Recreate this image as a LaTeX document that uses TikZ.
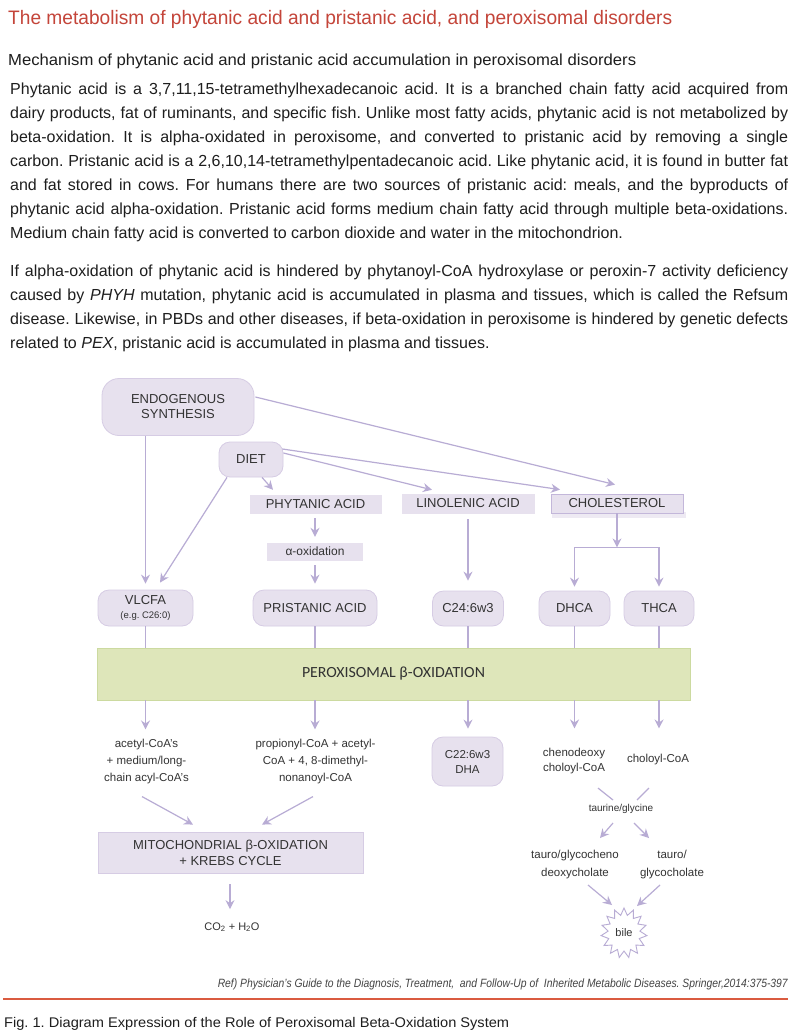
\documentclass[tikz,border=0pt]{standalone}
\usepackage{fontspec}
\setmainfont{Liberation Sans}
\newfontfamily\carlito{Carlito}
\usepackage{graphicx}
\usetikzlibrary{arrows.meta,calc,shapes.symbols}
\frenchspacing
\definecolor{lavfill}{HTML}{E7E1EE}
\definecolor{lavedge}{HTML}{D6CCE4}
\definecolor{lavedgedark}{HTML}{C3B7DA}
\definecolor{lavshadow}{HTML}{EEEAF3}
\definecolor{arrowc}{HTML}{B8ACD4}
\definecolor{greenfill}{HTML}{DEE6BA}
\definecolor{greenedge}{HTML}{CCDAA0}
\definecolor{titlered}{HTML}{C4453A}
\definecolor{rulered}{HTML}{DA5B40}
\definecolor{txt}{HTML}{1E1E1E}
\definecolor{lab}{HTML}{333333}
\definecolor{refgray}{HTML}{444444}
\tikzset{
  rbox/.style={draw=lavedge, fill=lavfill, rounded corners=11pt, line width=0.8pt,
    font=\fontsize{13}{15}\selectfont, text=lab, align=center, inner sep=0pt},
  sbox/.style={fill=lavfill, draw=lavfill, font=\fontsize{13}{15}\selectfont,
    text=lab, align=center, inner sep=0pt},
  arr/.style={draw=arrowc, line width=1.2pt, -{Stealth[length=9pt,width=9pt,inset=3pt]}},
  ln/.style={draw=arrowc, line width=1.2pt},
  small/.style={font=\fontsize{11.5}{17}\selectfont, text=lab, align=center, inner sep=0pt},
  bodytext/.style={anchor=base west, inner sep=0pt, text=txt, align=left,
    font=\fontsize{16}{24}\selectfont\frenchspacing},
}
\newcommand{\jl}[1]{\hbox to 778pt{#1}}
\begin{document}
\begin{tikzpicture}[x=1pt,y=-1pt]
\fill[white] (0,0) rectangle (800,1035);
\useasboundingbox (0,0) rectangle (800,1035);

% ---------- header text ----------
\node[anchor=base west, inner sep=0pt, text=titlered, font=\fontsize{19.5}{24}\selectfont]
  (title) at (8,25) {\resizebox{664pt}{\height}{The metabolism of phytanic acid and pristanic acid, and peroxisomal disorders}};
\node[anchor=base west, inner sep=0pt, text=txt, font=\fontsize{16}{24}\selectfont]
  (sub) at (8,66) {\resizebox{628pt}{\height}{Mechanism of phytanic acid and pristanic acid accumulation in peroxisomal disorders}};
% (base anchor of a multi-line node = baseline of its last line)
\node[bodytext] (p1) at (10,238) {%
\jl{Phytanic acid is a 3,7,11,15-tetramethylhexadecanoic acid. It is a branched chain fatty acid acquired from}\\
\jl{dairy products, fat of ruminants, and specific fish. Unlike most fatty acids, phytanic acid is not metabolized by}\\
\jl{beta-oxidation. It is alpha-oxidated in peroxisome, and converted to pristanic acid by removing a single}\\
\jl{carbon. Pristanic acid is a 2,6,10,14-tetramethylpentadecanoic acid. Like phytanic acid, it is found in butter fat}\\
\jl{and fat stored in cows. For humans there are two sources of pristanic acid: meals, and the byproducts of}\\
\jl{phytanic acid alpha-oxidation. Pristanic acid forms medium chain fatty acid through multiple beta-oxidations.}\\
Medium chain fatty acid is converted to carbon dioxide and water in the mitochondrion.};
\node[bodytext] (p2) at (10,348) {%
\jl{If alpha-oxidation of phytanic acid is hindered by phytanoyl-CoA hydroxylase or peroxin-7 activity deficiency}\\
\jl{caused by \textit{PHYH} mutation, phytanic acid is accumulated in plasma and tissues, which is called the Refsum}\\
\jl{disease. Likewise, in PBDs and other diseases, if beta-oxidation in peroxisome is hindered by genetic defects}\\
related to \textit{PEX}, pristanic acid is accumulated in plasma and tissues.};

% ---------- diagram nodes ----------
\node[rbox, rounded corners=17pt, minimum width=152pt, minimum height=57pt] (endo) at (178,407) {ENDOGENOUS\\SYNTHESIS};
\node[rbox, minimum width=64pt, minimum height=35pt] (diet) at (251,459.5) {DIET};
\node[sbox, minimum width=131pt, minimum height=18pt] (phyt) at (315.5,504) {PHYTANIC ACID};
\node[sbox, minimum width=132pt, minimum height=19pt] (lino) at (468,503.5) {LINOLENIC ACID};
\fill[lavshadow] (552,512) rectangle (686,518);
\node[sbox, draw=lavedgedark, line width=0.8pt, minimum width=132pt, minimum height=19pt] (chol) at (617,503.5) {CHOLESTEROL};
\node[sbox, minimum width=95pt, minimum height=17pt, font=\fontsize{12}{14}\selectfont] (aox) at (315,551.5) {α-oxidation};
\node[rbox, minimum width=95pt, minimum height=36pt] (vlcfa) at (145.5,608) {VLCFA\\[-1pt]{\fontsize{9.5}{11}\selectfont (e.g. C26:0)}};
\node[rbox, minimum width=124pt, minimum height=36pt] (prist) at (315,608) {PRISTANIC ACID};
\node[rbox, minimum width=71pt, minimum height=35pt] (c24) at (468,608.5) {C24:6w3};
\node[rbox, minimum width=71pt, minimum height=35pt] (dhca) at (574.5,608.5) {DHCA};
\node[rbox, minimum width=70pt, minimum height=35pt] (thca) at (659,608.5) {THCA};

\node[fill=greenfill, draw=greenedge, line width=0.8pt, minimum width=593pt, minimum height=52pt, inner sep=0pt,
  text=lab, font=\carlito\fontsize{15.5}{18}\selectfont] (band) at (393.5,674)
  {\resizebox{183pt}{\height}{PEROXISOMAL β-OXIDATION}};

\node[small] (acyl) at (146.5,762) {acetyl-CoA’s\\+ medium/long-\\chain acyl-CoA’s};
\node[small] (prop) at (315.5,762) {propionyl-CoA + acetyl-\\CoA + 4, 8-dimethyl-\\nonanoyl-CoA};
\node[rbox, minimum width=71pt, minimum height=49pt, font=\fontsize{11.5}{15}\selectfont] (dha) at (467.5,761.5) {C22:6w3\\DHA};
\node[small, font=\fontsize{11.5}{15}\selectfont] (cheno) at (574,761.5) {chenodeoxy\\choloyl-CoA};
\node[small] (cholcoa) at (658,760) {choloyl-CoA};
\node[small, font=\fontsize{10}{12}\selectfont] (taur) at (621,809) {taurine/glycine};
\node[small, font=\fontsize{11.5}{18}\selectfont] (tgcd) at (575,865) {tauro/glycocheno\\deoxycholate};
\node[small, font=\fontsize{11.5}{18}\selectfont] (tgc) at (672,865) {tauro/\\glycocholate};
\node[starburst, starburst points=15, starburst point height=7pt, random starburst=0,
  draw=arrowc, fill=white, line width=0.9pt, minimum width=46pt, minimum height=50pt,
  inner sep=0pt, text=lab, font=\fontsize{11}{13}\selectfont] (bile) at (624,933) {bile};
\node[sbox, draw=lavedge, line width=0.8pt, minimum width=265pt, minimum height=41pt, font=\fontsize{13}{16}\selectfont]
  (mito) at (230.5,852.5) {MITOCHONDRIAL β-OXIDATION\\+ KREBS CYCLE};
\node[small, font=\fontsize{11}{13}\selectfont] (co2) at (232,927) {CO\textsubscript{2} + H\textsubscript{2}O};

% ---------- connectors ----------
\draw[arr] (endo.south -| vlcfa.north) -- ($(vlcfa.north)+(0,-6)$);
\draw[arr] ($(diet.south)+(-24,0)$) -- ($(vlcfa.north)+(14.5,-7)$);
\draw[arr] ($(diet.south)+(11,0)$) -- ($(phyt.north)+(-42.5,-5)$);
\draw[arr] ($(diet.east)+(0,-6.5)$) -- ($(lino.north)+(-36,-4)$);
\draw[arr] ($(diet.east)+(-1,-10.5)$) -- ($(chol.north)+(-57,-4)$);
\draw[arr] ($(endo.east)+(1,-10)$) -- ($(chol.north)+(-2,-9)$);
\draw[arr] ($(phyt.south)+(-0.5,5)$) -- ($(aox.north)+(0,-6)$);
\draw[arr] ($(aox.south)+(0,5)$) -- ($(prist.north)+(0,-6)$);
\draw[arr] ($(lino.south)+(0,6)$) -- ($(c24.north)+(0,-10)$);
\coordinate (split) at ($(chol.south)+(0,34)$);
\draw[arr] (chol.south) -- (split);
\draw[ln] (split -| dhca.north) -- (split -| thca.north);
\draw[arr] (split -| dhca.north) -- ($(dhca.north)+(0,-4)$);
\draw[arr] (split -| thca.north) -- ($(thca.north)+(0,-4)$);
\foreach \n in {vlcfa,prist,c24,dhca,thca} \draw[ln] (\n.south) -- (\n.south |- band.north);

\draw[arr] (band.south -| vlcfa.south) -- ($(acyl.north -| vlcfa.south)+(0,-10)$);
\draw[arr] (band.south -| prist.south) -- ($(prop.north -| prist.south)+(0,-10)$);
\draw[arr] (band.south -| c24.south) -- ($(dha.north -| c24.south)+(0,-8)$);
\draw[arr] (band.south -| dhca.south) -- ($(cheno.north -| dhca.south)+(0,-20)$);
\draw[arr] (band.south -| thca.south) -- ($(cholcoa.north -| thca.south)+(0,-26)$);

\draw[arr] ($(acyl.south)+(-4.5,12)$) -- ($(mito.north)+(-37.5,-7)$);
\draw[arr] ($(prop.south)+(-2.5,12)$) -- ($(mito.north)+(31.5,-7)$);
\draw[arr] ($(mito.south)+(-0.5,11)$) -- ($(co2.north)+(-2,-13)$);

\draw[ln] ($(cheno.south)+(24,13.5)$) -- ($(taur)+(-8,-9)$);
\draw[ln] ($(cholcoa.south)+(-9,22.5)$) -- ($(taur)+(16,-9)$);
\draw[arr] ($(taur)+(-8,14)$) -- ($(tgcd)+(25,-27)$);
\draw[arr] ($(taur)+(13,14)$) -- ($(tgc)+(-23,-27)$);
\draw[arr] ($(tgcd)+(13,20)$) -- ($(bile)+(-12,-28)$);
\draw[arr] ($(tgc)+(-12,20)$) -- ($(bile)+(13,-27)$);

% ---------- footer ----------
\node[anchor=base east, inner sep=0pt, text=refgray, font=\fontsize{12}{14}\selectfont\itshape]
  (ref) at (788,987) {\resizebox{570pt}{\height}{Ref) Physician’s Guide to the Diagnosis, Treatment,~ and Follow-Up of~ Inherited Metabolic Diseases. Springer,2014:375-397}};
\draw[rulered, line width=1.2pt] (3,999) -- (788,999);
\node[anchor=base west, inner sep=0pt, text=txt, font=\fontsize{14}{16}\selectfont]
  (fig) at (4,1027) {\resizebox{505pt}{\height}{Fig. 1. Diagram Expression of the Role of Peroxisomal Beta-Oxidation System}};
\end{tikzpicture}
\end{document}
